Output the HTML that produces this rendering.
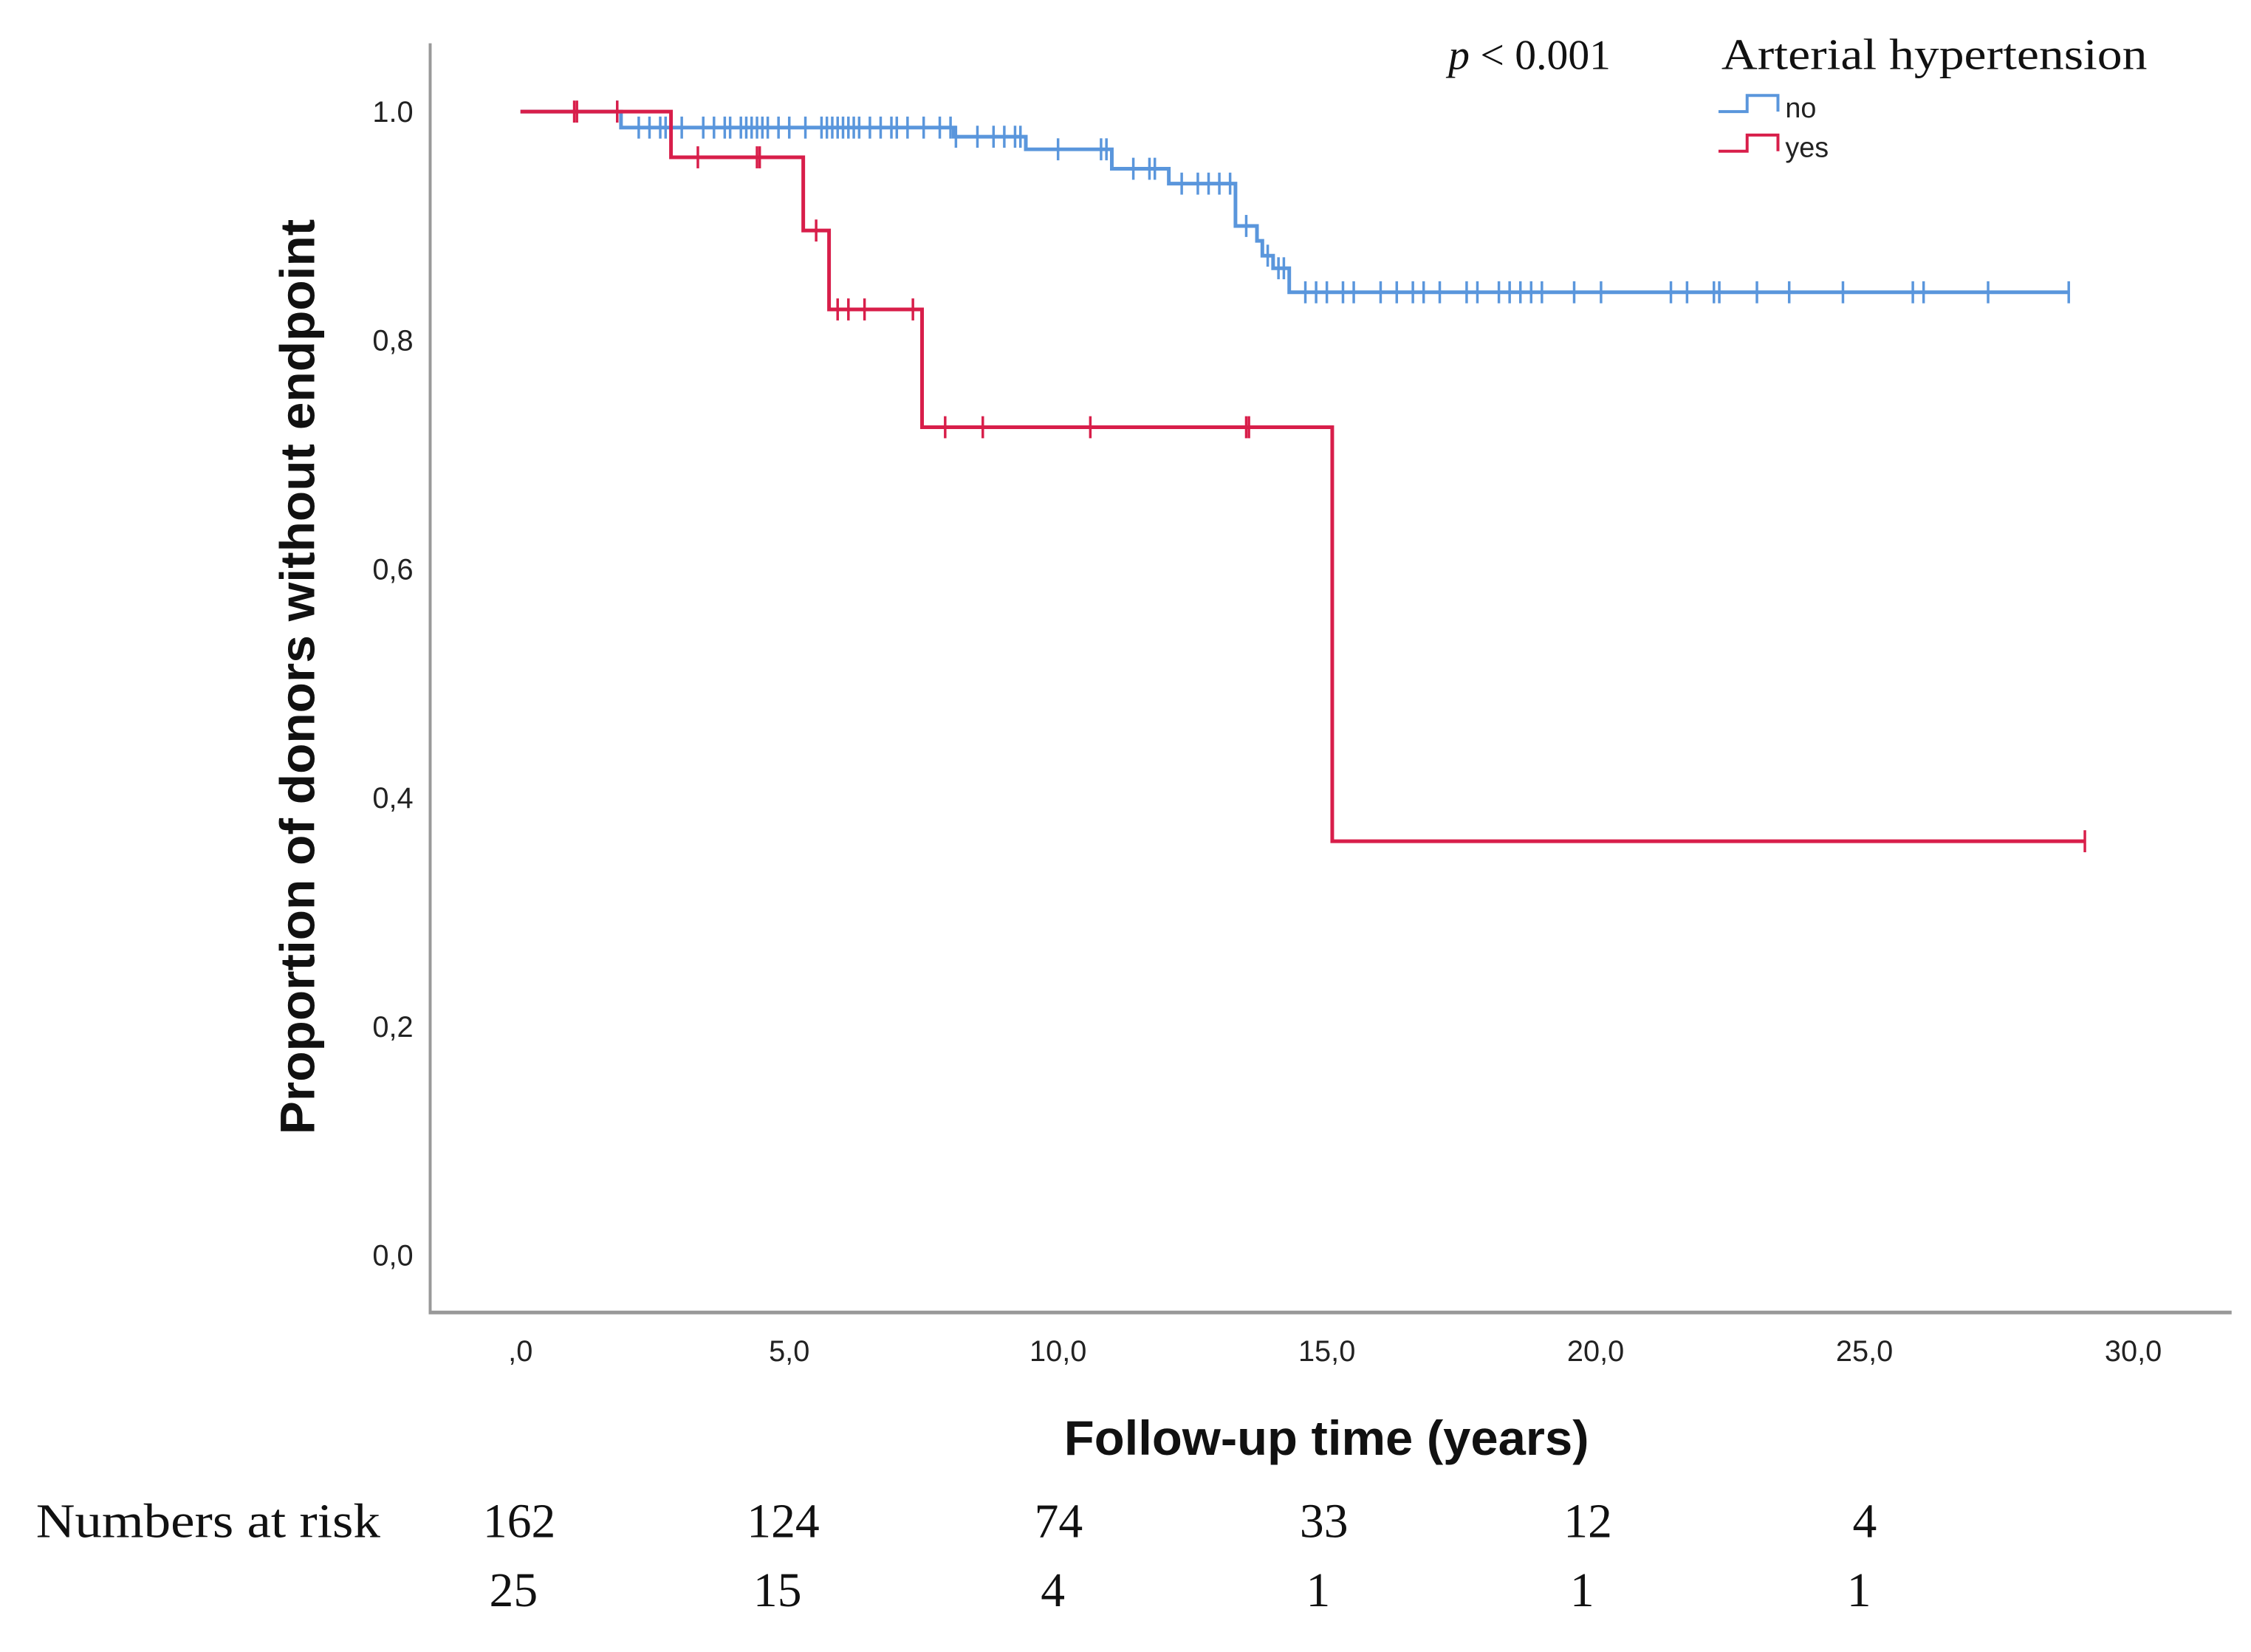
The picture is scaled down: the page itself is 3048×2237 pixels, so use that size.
<!DOCTYPE html>
<html><head><meta charset="utf-8"><style>
html,body{margin:0;padding:0;background:#fff;}
svg{display:block;}
</style></head><body>
<svg id="chart" width="3048" height="2237" viewBox="0 0 3048 2237" xmlns="http://www.w3.org/2000/svg"><g id="root" transform="scale(0.994)"></g></svg>
<script>
const xTicks = [0,5,10,15,20,25,30];
const xTickLabels = [",0","5,0","10,0","15,0","20,0","25,0","30,0"];
const yTicks = [0,0.2,0.4,0.6,0.8,1.0];
const yTickLabels = ["0,0","0,2","0,4","0,6","0,8","1.0"];
const noStepTimes = [0,1.87,8.06,9.4,11.0,12.06,13.3,13.7,13.8,14.0,14.3];
const noStepSurv  = [1.0,0.986,0.978,0.967,0.950,0.937,0.900,0.887,0.874,0.863,0.842];
const noEnd = 28.8;
const noCensor = [1.8,2.2,2.4,2.6,2.7,3.0,3.4,3.6,3.8,3.9,4.1,4.2,4.3,4.4,4.5,4.6,4.8,5.0,5.3,5.6,5.7,5.8,5.9,6.0,6.1,6.2,6.3,6.5,6.7,6.9,7.0,7.2,7.5,7.8,8.0,8.1,8.5,8.8,9.0,9.2,9.3,10.0,10.8,10.9,11.4,11.7,11.8,12.3,12.6,12.8,13.0,13.2,13.5,13.9,14.1,14.2,14.6,14.8,15.0,15.3,15.5,16.0,16.3,16.6,16.8,17.1,17.6,17.8,18.2,18.4,18.6,18.8,19.0,19.6,20.1,21.4,21.7,22.2,22.3,23.0,23.6,24.6,25.9,26.1,27.3,28.8];
const yesStepTimes = [0,2.8,5.26,5.74,7.47,15.1];
const yesStepSurv  = [1.0,0.96,0.896,0.827,0.724,0.362];
const yesEnd = 29.1;
const yesCensor = [1.0,1.05,1.8,3.3,4.4,4.45,5.5,5.9,6.1,6.4,7.3,7.9,8.6,10.6,13.5,13.55,29.1];
const riskNo = ["162","124","74","33","12","4"];
const riskYes = ["25","15","4","1","1","1"];
const riskX = [362,546,738,923,1107,1300];

const NS="http://www.w3.org/2000/svg";
const svg=document.getElementById('root');
const S=1.954;
const X0=709, X30=2906, Y0=1710, Y1=152;
const xs=t=>X0+(X30-X0)*t/30;
const ys=v=>Y0+(Y1-Y0)*v;
function el(tag,attrs,parent){const e=document.createElementNS(NS,tag);for(const k in attrs)e.setAttribute(k,attrs[k]);(parent||svg).appendChild(e);return e;}

let ax=el('line',{x1:586,y1:59,x2:586,y2:1790,stroke:'#999','stroke-width':4});


ax=el('line',{x1:584,y1:1788,x2:3040,y2:1788,stroke:'#999','stroke-width':5});



yTicks.forEach((v,i)=>{
  const t=el('text',{x:563,y:ys(v)+14,'text-anchor':'end','font-family':'Liberation Sans, sans-serif','font-size':40,fill:'#222'});
  t.textContent=yTickLabels[i];
  
  
});
xTicks.forEach((v,i)=>{
  const t=el('text',{x:xs(v),y:1854,'text-anchor':'middle','font-family':'Liberation Sans, sans-serif','font-size':40,fill:'#222'});
  t.textContent=xTickLabels[i];
  
  
});

let t=el('text',{x:1807,y:1982,'text-anchor':'middle','font-family':'Liberation Sans, sans-serif','font-size':66,'font-weight':'bold',fill:'#111',textLength:715,lengthAdjust:'spacingAndGlyphs'});
t.textContent='Follow-up time (years)';


t=el('text',{x:0,y:0,'text-anchor':'middle','font-family':'Liberation Sans, sans-serif','font-size':66,'font-weight':'bold',fill:'#111',transform:'translate(428,922) rotate(-90)',textLength:1247,lengthAdjust:'spacingAndGlyphs'});
t.textContent='Proportion of donors without endpoint';



function drawSeries(times,surv,end,censor,color,name){
  const g=el('g',{});
  
  
  let d='M'+xs(times[0])+' '+ys(surv[0]);
  for(let i=1;i<times.length;i++){d+=' H'+xs(times[i])+' V'+ys(surv[i]);}
  d+=' H'+xs(end);
  const p=el('path',{d:d,fill:'none',stroke:color,'stroke-width':5},g);
  
  
  censor.forEach(c=>{
    let s=surv[0];
    for(let i=0;i<times.length;i++){if(times[i]<=c)s=surv[i];}
    const m=el('line',{x1:xs(c),x2:xs(c),y1:ys(s)-15,y2:ys(s)+15,stroke:color,'stroke-width':3.5},g);
    
    
  });
}
drawSeries(noStepTimes,noStepSurv,noEnd,noCensor,'#5a96dc','no');
drawSeries(yesStepTimes,yesStepSurv,yesEnd,yesCensor,'#d81e4a','yes');

t=el('text',{x:1973,y:94,'font-family':'Liberation Serif, serif','font-size':58,fill:'#111'});
t.innerHTML='<tspan font-style="italic">p</tspan> &lt; 0.001';


t=el('text',{x:2345,y:94,'font-family':'Liberation Serif, serif','font-size':60,fill:'#111',textLength:580,lengthAdjust:'spacingAndGlyphs'});
t.textContent='Arterial hypertension';


[['no','#5a96dc',152],['yes','#d81e4a',206]].forEach(([lab,col,y])=>{
  const g=el('g',{});
  
  
  el('path',{d:`M2341 ${y} H2380 V${y-22} H2422 V${y}`,fill:'none',stroke:col,'stroke-width':4},g);
  const tt=el('text',{x:2432,y:y+8,'font-family':'Liberation Sans, sans-serif','font-size':38,fill:'#222'},g);
  tt.textContent=lab;
});

t=el('text',{x:49,y:2094,'font-family':'Liberation Serif, serif','font-size':66,fill:'#111',textLength:469,lengthAdjust:'spacingAndGlyphs'});
t.textContent='Numbers at risk';


riskNo.forEach((v,i)=>{
  const r=el('text',{x:riskX[i]*S,y:2094,'text-anchor':'middle','font-family':'Liberation Serif, serif','font-size':66,fill:'#111'});
  r.textContent=v;
  
  
});
riskYes.forEach((v,i)=>{
  const r=el('text',{x:(riskX[i]-4)*S,y:2188,'text-anchor':'middle','font-family':'Liberation Serif, serif','font-size':66,fill:'#111'});
  r.textContent=v;
  
  
});
</script>
</body></html>
